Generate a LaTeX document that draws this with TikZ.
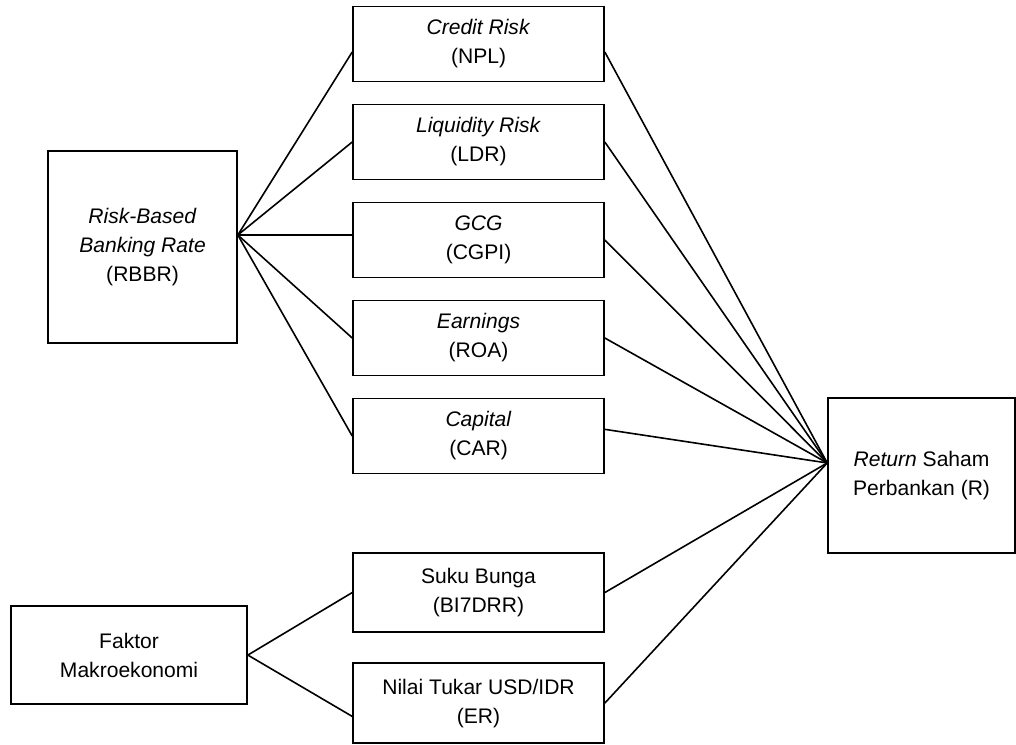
\documentclass[tikz,border=0pt]{standalone}
\usepackage{fontspec}
\setmainfont{Liberation Sans}
\tikzset{
  block/.style    = {draw, rectangle, align=center, minimum width=188.25pt, minimum height=56.25pt},
  bigblock/.style = {draw, rectangle, align=center},
  hub/.style      = {coordinate}
}

\begin{document}
\begin{tikzpicture}[auto, node distance=73.5pt, line width=1.2pt, font=\fontsize{15.8}{21.75}\selectfont]

\useasboundingbox (-358.9pt,33pt) rectangle (403.1pt,-525pt);

% RBBR indicators
\draw node [block] (credit) at (0,0) {\textit{Credit Risk}\\(NPL)};
\draw node [block, below of=credit] (liq) {\textit{Liquidity Risk}\\(LDR)};
\draw node [block, below of=liq] (gcg) {\textit{GCG}\\(CGPI)};
\draw node [block, below of=gcg] (earn) {\textit{Earnings}\\(ROA)};
\draw node [block, below of=earn] (cap) {\textit{Capital}\\(CAR)};

% Macro indicators
\draw node [block, below of=cap, node distance=117.4pt, minimum height=59.25pt] (suku) {Suku Bunga\\(BI7DRR)};
\draw node [block, below of=suku, node distance=82.9pt, minimum height=60pt] (er) {Nilai Tukar USD/IDR\\(ER)};

% Left boxes
\draw node [bigblock, left of=gcg, yshift=-5.25pt, node distance=252pt, minimum width=141.75pt, minimum height=144pt] (rbbr) {\textit{Risk-Based}\\\textit{Banking Rate}\\(RBBR)};
\draw node [bigblock, left of=suku, yshift=-46.9pt, node distance=262.1pt, minimum width=177pt, minimum height=73.5pt] (makro) {Faktor\\Makroekonomi};

% Output
\draw node [bigblock, right of=cap, yshift=-29.6pt, node distance=332.25pt, minimum width=140.25pt, minimum height=116.25pt] (ret) {\textit{Return} Saham\\Perbankan (R)};

\coordinate (rbbrhub) at ([yshift=9pt]rbbr.east);
\coordinate (rethub) at ([yshift=9.4pt]ret.west);

% Connections
\draw[-] (rbbrhub) -- ([yshift=-6pt]credit.west);
\draw[-] (rbbrhub) -- (liq.west);
\draw[-] (rbbrhub) -- ([yshift=3.75pt]gcg.west);
\draw[-] (rbbrhub) -- (earn.west);
\draw[-] (rbbrhub) -- (cap.west);

\draw[-] (makro.east) -- (suku.west);
\draw[-] (makro.east) -- ([yshift=-10pt]er.west);

\draw[-] ([yshift=-6pt]credit.east) -- (rethub);
\draw[-] (liq.east) -- (rethub);
\draw[-] (gcg.east) -- (rethub);
\draw[-] (earn.east) -- (rethub);
\draw[-] ([yshift=5pt]cap.east) -- (rethub);
\draw[-] (suku.east) -- (rethub);
\draw[-] (er.east) -- (rethub);

\end{tikzpicture}
\end{document}
